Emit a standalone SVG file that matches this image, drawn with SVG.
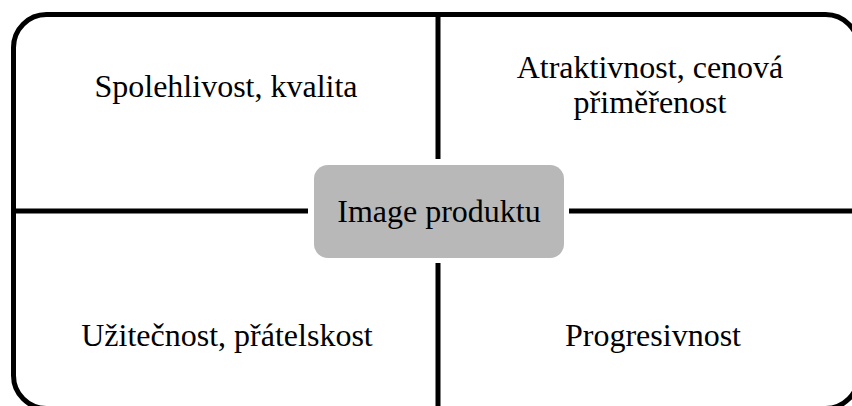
<svg xmlns="http://www.w3.org/2000/svg" width="852" height="406" viewBox="0 0 852 406">
<style>
.frame{fill:none;stroke:#000;stroke-width:5}
.ln{stroke:#000;stroke-width:5;fill:none}
.t{font-family:"Liberation Serif","Times New Roman",serif;font-size:32px;fill:#000;text-anchor:middle}
.center{fill:#b8b8b8;stroke:none}
</style>
<rect width="852" height="406" fill="#fff"/>
<g id="frame">
<rect class="frame" x="13.5" y="14.5" width="845" height="394" rx="33" ry="33"/>
</g>
<g id="connectors">
<line class="ln" x1="438" y1="14" x2="438" y2="159"/>
<line class="ln" x1="438" y1="263" x2="438" y2="410"/>
<line class="ln" x1="13" y1="211" x2="308" y2="211"/>
<line class="ln" x1="569" y1="211" x2="860" y2="211"/>
</g>
<g id="q1"><text class="t" x="226" y="97">Spolehlivost, kvalita</text></g>
<g id="q2"><text class="t" x="650" y="78">Atraktivnost, cenová</text><text class="t" x="650" y="113">přiměřenost</text></g>
<g id="q3"><text class="t" x="227" y="346">Užitečnost, přátelskost</text></g>
<g id="q4"><text class="t" x="653" y="346">Progresivnost</text></g>
<g id="center">
<rect class="center" x="314" y="165" width="250" height="93" rx="14" ry="14"/>
<text class="t" x="439" y="222">Image produktu</text>
</g>
</svg>
